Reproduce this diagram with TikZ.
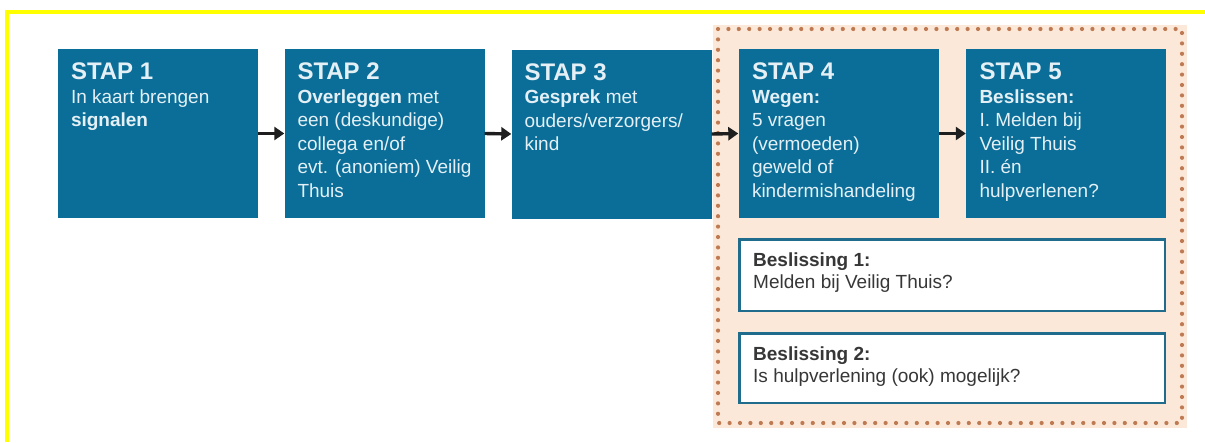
\documentclass[tikz,border=0pt]{standalone}
\usepackage{fontspec}
\setmainfont{Liberation Sans}
\usetikzlibrary{calc,arrows.meta}
\definecolor{stapblue}{RGB}{10,110,152}
\definecolor{staptext}{RGB}{228,240,245}
\definecolor{peach}{RGB}{251,232,216}
\definecolor{dotcol}{RGB}{190,122,82}
\definecolor{besborder}{RGB}{32,108,140}
\definecolor{bestext}{RGB}{55,55,55}
\definecolor{arrowcol}{RGB}{30,30,30}
\definecolor{frameyellow}{RGB}{255,255,0}
\tikzset{
  stapbox/.style={draw=none,fill=stapblue,minimum width=200pt,minimum height=169pt,inner sep=0pt},
  staplabel/.style={anchor=north west,inner sep=0pt,align=left,text=staptext,
    font=\fontsize{19}{23.5}\selectfont},
  besbox/.style={draw=besborder,line width=2.5pt,fill=white,minimum width=425.5pt,inner sep=0pt},
  beslabel/.style={anchor=north west,inner sep=0pt,align=left,text=bestext,
    font=\fontsize{19}{21.5}\selectfont},
  flow/.style={draw=arrowcol,line width=3.4pt,-{Triangle[length=10pt,width=13pt]}},
}
\newcommand{\staptitle}[1]{{\fontsize{24}{23.5}\selectfont\bfseries #1}}
\begin{document}
\begin{tikzpicture}[x=1pt,y=-1pt]
\useasboundingbox (0,0) rectangle (1205,442);
\fill[white] (0,0) rectangle (1205,442);
% yellow partial frame
\fill[frameyellow] (5,10) rectangle (1205,13.5);
\fill[frameyellow] (5,10) rectangle (9,442);
% dotted peach region
\fill[peach] (713,25) rectangle (1187,428);
\draw[dotcol,line width=4.2pt,line cap=round,dash pattern=on 0pt off 10.4pt]
  (718,29) -- (1182,29) -- (1182,423) -- (718,423) -- cycle;
% step boxes
\node[stapbox] (s1) at (158,133.5) {};
\node[stapbox] (s2) at (384.5,133.5) {};
\node[stapbox] (s3) at (611.5,134) {};
\node[stapbox] (s4) at (838.5,133.5) {};
\node[stapbox] (s5) at (1066,133.5) {};
\node[staplabel] (t1) at ($(s1.north west)+(13,14)$) {\staptitle{STAP 1}\\In kaart brengen\\\textbf{signalen}};
\node[staplabel] (t2) at ($(s2.north west)+(13,14)$) {\staptitle{STAP 2}\\\textbf{Overleggen} met\\een (deskundige)\\collega en/of\\evt. (anoniem) Veilig\\Thuis};
\node[staplabel] (t3) at ($(s3.north west)+(13,14)$) {\staptitle{STAP 3}\\\textbf{Gesprek} met\\ouders/verzorgers/\\kind};
\node[staplabel] (t4) at ($(s4.north west)+(13.5,14)$) {\staptitle{STAP 4}\\\textbf{Wegen:}\\5 vragen\\(vermoeden)\\geweld of\\kindermishandeling};
\node[staplabel] (t5) at ($(s5.north west)+(13.5,14)$) {\staptitle{STAP 5}\\\textbf{Beslissen:}\\I. Melden bij\\Veilig Thuis\\II. én\\hulpverlenen?};
% arrows
\draw[flow] (s1.east) -- (s2.west);
\draw[flow] (s2.east) -- (s3.west);
\draw[flow] (s3.east) -- (s4.west);
\draw[flow] (s4.east) -- (s5.west);
% decision boxes
\node[besbox,minimum height=71.5pt] (b1) at (952,275) {};
\node[besbox,minimum height=69.5pt] (b2) at (952,368) {};
\node[beslabel] (bt1) at ($(b1.north west)+(15,15)$) {\textbf{Beslissing 1:}\\Melden bij Veilig Thuis?};
\node[beslabel] (bt2) at ($(b2.north west)+(15,15)$) {\textbf{Beslissing 2:}\\Is hulpverlening (ook) mogelijk?};
\end{tikzpicture}
\end{document}
